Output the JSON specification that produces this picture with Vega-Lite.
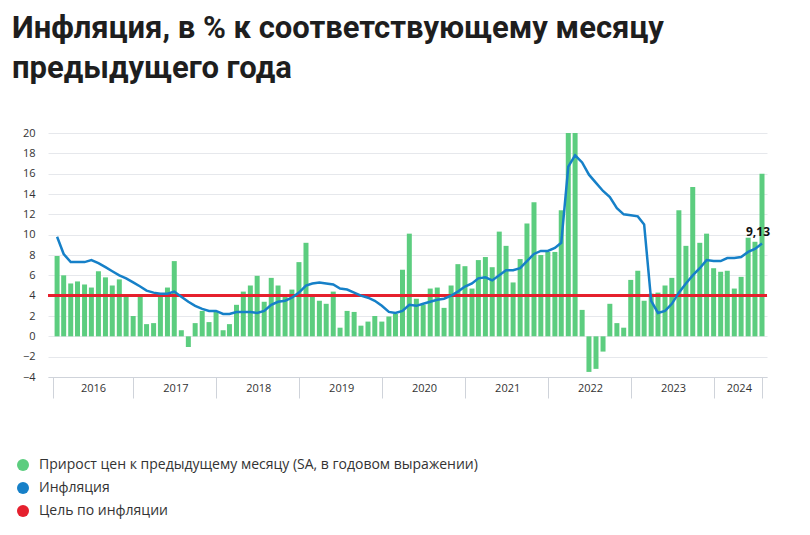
{
  "$schema": "https://vega.github.io/schema/vega-lite/v6.json",
  "width": 719,
  "height": 244,
  "autosize": {"type": "none"},
  "padding": {"left": 48, "top": 133, "right": 43, "bottom": 158},
  "background": "white",
  "title": {
    "text": ["Инфляция, в % к соответствующему месяцу", "предыдущего года"],
    "anchor": "start",
    "frame": "group",
    "dx": -36,
    "offset": 42,
    "fontSize": 31,
    "font": "Roboto",
    "fontWeight": "bold",
    "color": "#1e1e1e",
    "lineHeight": 40
  },
  "config": {
    "view": {"stroke": null},
    "font": "Open Sans",
    "axisY": {"labelOverlap": false, "tickCount": 13}
  },
  "data": {
    "values": [
      {"date": "2016/01/31", "mom": 7.9, "cpi": 9.8},
      {"date": "2016/02/29", "mom": 6.0, "cpi": 8.1},
      {"date": "2016/03/31", "mom": 5.2, "cpi": 7.3},
      {"date": "2016/04/30", "mom": 5.4, "cpi": 7.3},
      {"date": "2016/05/31", "mom": 5.1, "cpi": 7.3},
      {"date": "2016/06/30", "mom": 4.8, "cpi": 7.5},
      {"date": "2016/07/31", "mom": 6.4, "cpi": 7.2},
      {"date": "2016/08/31", "mom": 5.8, "cpi": 6.8},
      {"date": "2016/09/30", "mom": 5.0, "cpi": 6.4},
      {"date": "2016/10/31", "mom": 5.6, "cpi": 6.0},
      {"date": "2016/11/30", "mom": 4.0, "cpi": 5.7},
      {"date": "2016/12/31", "mom": 2.0, "cpi": 5.3},
      {"date": "2017/01/31", "mom": 4.1, "cpi": 4.9},
      {"date": "2017/02/28", "mom": 1.2, "cpi": 4.5},
      {"date": "2017/03/31", "mom": 1.3, "cpi": 4.3},
      {"date": "2017/04/30", "mom": 4.0, "cpi": 4.2},
      {"date": "2017/05/31", "mom": 4.8, "cpi": 4.2},
      {"date": "2017/06/30", "mom": 7.4, "cpi": 4.4},
      {"date": "2017/07/31", "mom": 0.6, "cpi": 3.9},
      {"date": "2017/08/31", "mom": -1.05, "cpi": 3.4},
      {"date": "2017/09/30", "mom": 1.3, "cpi": 3.0},
      {"date": "2017/10/31", "mom": 2.5, "cpi": 2.7},
      {"date": "2017/11/30", "mom": 1.4, "cpi": 2.5},
      {"date": "2017/12/31", "mom": 2.4, "cpi": 2.5},
      {"date": "2018/01/31", "mom": 0.6, "cpi": 2.2},
      {"date": "2018/02/28", "mom": 1.2, "cpi": 2.2},
      {"date": "2018/03/31", "mom": 3.1, "cpi": 2.4},
      {"date": "2018/04/30", "mom": 4.4, "cpi": 2.4},
      {"date": "2018/05/31", "mom": 5.0, "cpi": 2.4},
      {"date": "2018/06/30", "mom": 5.95, "cpi": 2.3},
      {"date": "2018/07/31", "mom": 3.4, "cpi": 2.5},
      {"date": "2018/08/31", "mom": 5.75, "cpi": 3.1},
      {"date": "2018/09/30", "mom": 5.0, "cpi": 3.4},
      {"date": "2018/10/31", "mom": 4.0, "cpi": 3.5},
      {"date": "2018/11/30", "mom": 4.6, "cpi": 3.8},
      {"date": "2018/12/31", "mom": 7.3, "cpi": 4.3},
      {"date": "2019/01/31", "mom": 9.2, "cpi": 5.0},
      {"date": "2019/02/28", "mom": 4.0, "cpi": 5.2},
      {"date": "2019/03/31", "mom": 3.5, "cpi": 5.3},
      {"date": "2019/04/30", "mom": 3.2, "cpi": 5.2},
      {"date": "2019/05/31", "mom": 4.4, "cpi": 5.1},
      {"date": "2019/06/30", "mom": 0.85, "cpi": 4.7},
      {"date": "2019/07/31", "mom": 2.5, "cpi": 4.6},
      {"date": "2019/08/31", "mom": 2.4, "cpi": 4.3},
      {"date": "2019/09/30", "mom": 1.05, "cpi": 4.0},
      {"date": "2019/10/31", "mom": 1.45, "cpi": 3.8},
      {"date": "2019/11/30", "mom": 2.0, "cpi": 3.5},
      {"date": "2019/12/31", "mom": 1.45, "cpi": 3.0},
      {"date": "2020/01/31", "mom": 1.95, "cpi": 2.4},
      {"date": "2020/02/29", "mom": 2.2, "cpi": 2.3},
      {"date": "2020/03/31", "mom": 6.55, "cpi": 2.5},
      {"date": "2020/04/30", "mom": 10.1, "cpi": 3.1},
      {"date": "2020/05/31", "mom": 3.7, "cpi": 3.0},
      {"date": "2020/06/30", "mom": 3.1, "cpi": 3.2},
      {"date": "2020/07/31", "mom": 4.7, "cpi": 3.4},
      {"date": "2020/08/31", "mom": 4.8, "cpi": 3.6},
      {"date": "2020/09/30", "mom": 2.8, "cpi": 3.7},
      {"date": "2020/10/31", "mom": 5.0, "cpi": 4.0},
      {"date": "2020/11/30", "mom": 7.1, "cpi": 4.4},
      {"date": "2020/12/31", "mom": 6.9, "cpi": 4.9},
      {"date": "2021/01/31", "mom": 4.7, "cpi": 5.2},
      {"date": "2021/02/28", "mom": 7.5, "cpi": 5.7},
      {"date": "2021/03/31", "mom": 7.8, "cpi": 5.8},
      {"date": "2021/04/30", "mom": 6.8, "cpi": 5.5},
      {"date": "2021/05/31", "mom": 10.3, "cpi": 6.0},
      {"date": "2021/06/30", "mom": 8.9, "cpi": 6.5},
      {"date": "2021/07/31", "mom": 5.3, "cpi": 6.5},
      {"date": "2021/08/31", "mom": 7.6, "cpi": 6.7},
      {"date": "2021/09/30", "mom": 11.1, "cpi": 7.4},
      {"date": "2021/10/31", "mom": 13.2, "cpi": 8.1},
      {"date": "2021/11/30", "mom": 8.0, "cpi": 8.4},
      {"date": "2021/12/31", "mom": 8.3, "cpi": 8.4},
      {"date": "2022/01/31", "mom": 8.3, "cpi": 8.7},
      {"date": "2022/02/28", "mom": 12.4, "cpi": 9.2},
      {"date": "2022/03/31", "mom": 20, "cpi": 16.7},
      {"date": "2022/04/30", "mom": 20, "cpi": 17.8},
      {"date": "2022/05/31", "mom": 2.6, "cpi": 17.1},
      {"date": "2022/06/30", "mom": -3.5, "cpi": 15.9},
      {"date": "2022/07/31", "mom": -3.2, "cpi": 15.1},
      {"date": "2022/08/31", "mom": -1.5, "cpi": 14.3},
      {"date": "2022/09/30", "mom": 3.2, "cpi": 13.7},
      {"date": "2022/10/31", "mom": 1.3, "cpi": 12.6},
      {"date": "2022/11/30", "mom": 0.85, "cpi": 12.0},
      {"date": "2022/12/31", "mom": 5.55, "cpi": 11.9},
      {"date": "2023/01/31", "mom": 6.45, "cpi": 11.8},
      {"date": "2023/02/28", "mom": 3.5, "cpi": 11.0},
      {"date": "2023/03/31", "mom": 4.2, "cpi": 3.5},
      {"date": "2023/04/30", "mom": 4.3, "cpi": 2.3},
      {"date": "2023/05/31", "mom": 5.0, "cpi": 2.5},
      {"date": "2023/06/30", "mom": 5.75, "cpi": 3.2},
      {"date": "2023/07/31", "mom": 12.4, "cpi": 4.3},
      {"date": "2023/08/31", "mom": 8.9, "cpi": 5.2},
      {"date": "2023/09/30", "mom": 14.7, "cpi": 6.0},
      {"date": "2023/10/31", "mom": 9.2, "cpi": 6.7},
      {"date": "2023/11/30", "mom": 10.1, "cpi": 7.5},
      {"date": "2023/12/31", "mom": 6.7, "cpi": 7.4},
      {"date": "2024/01/31", "mom": 6.35, "cpi": 7.4},
      {"date": "2024/02/29", "mom": 6.45, "cpi": 7.7},
      {"date": "2024/03/31", "mom": 4.7, "cpi": 7.7},
      {"date": "2024/04/30", "mom": 5.85, "cpi": 7.8},
      {"date": "2024/05/31", "mom": 9.7, "cpi": 8.3},
      {"date": "2024/06/30", "mom": 9.3, "cpi": 8.6},
      {"date": "2024/07/31", "mom": 16.0, "cpi": 9.13, "label": "9,13"}
    ]
  },
  "encoding": {
    "x": {
      "field": "date",
      "type": "temporal",
      "title": null,
      "scale": {"domain": [{"year": 2016, "month": 1, "date": 13}, {"year": 2024, "month": 7, "date": 31}]},
      "axis": {
        "values": [
          {"year": 2016, "month": 1, "date": 13},
          {"year": 2017, "month": 1, "date": 1},
          {"year": 2018, "month": 1, "date": 1},
          {"year": 2019, "month": 1, "date": 1},
          {"year": 2020, "month": 1, "date": 1},
          {"year": 2021, "month": 1, "date": 1},
          {"year": 2022, "month": 1, "date": 1},
          {"year": 2023, "month": 1, "date": 1},
          {"year": 2024, "month": 1, "date": 1},
          {"year": 2024, "month": 7, "date": 31}
        ],
        "grid": false,
        "domainColor": "#cfd3da",
        "tickColor": "#cfd3da",
        "tickSize": 21,
        "labelExpr": "month(datum.value) == 6 ? '' : timeFormat(datum.value, '%Y')",
        "labelOffset": {"expr": "year(datum.value) == 2016 ? 40 : (year(datum.value) == 2024 ? 25 : 42)"},
        "labelPadding": -10,
        "labelBaseline": "middle",
        "labelAlign": "center",
        "labelFlush": false,
        "labelOverlap": false,
        "labelBound": false,
        "labelFontSize": 11,
        "labelColor": "#333333"
      }
    }
  },
  "layer": [
    {
      "mark": {"type": "bar", "width": 5},
      "encoding": {
        "y": {
          "field": "mom",
          "type": "quantitative",
          "title": null,
          "scale": {"domain": [-4, 20], "nice": false, "zero": false},
          "axis": {
            "values": [-4, -2, 0, 2, 4, 6, 8, 10, 12, 14, 16, 18, 20],
            "grid": true,
            "gridColor": "#e6e8ec",
            "domain": false,
            "ticks": false,
            "labelOverlap": false,
            "labelPadding": 13,
            "labelFontSize": 11,
            "labelColor": "#333333"
          }
        },
        "color": {
          "datum": "Прирост цен к предыдущему месяцу (SA, в годовом выражении)",
          "scale": {
            "domain": ["Прирост цен к предыдущему месяцу (SA, в годовом выражении)", "Инфляция", "Цель по инфляции"],
            "range": ["#5ccd7f", "#1680c8", "#e5202e"]
          },
          "legend": {
            "orient": "none",
            "legendX": -32,
            "legendY": 325,
            "title": null,
            "direction": "vertical",
            "symbolType": "circle",
            "symbolSize": 144,
            "symbolStrokeWidth": 0,
            "labelFontSize": 14,
            "labelColor": "#333333",
            "labelFont": "Open Sans",
            "labelOffset": 9,
            "rowPadding": 9,
            "padding": 0,
            "labelLimit": 700
          }
        }
      }
    },
    {
      "mark": {"type": "rule", "strokeWidth": 2},
      "encoding": {
        "x": null,
        "y": {"datum": 4, "type": "quantitative", "axis": {"labelOverlap": false}},
        "color": {"datum": "Цель по инфляции", "legend": null}
      }
    },
    {
      "mark": {"type": "line", "strokeWidth": 2.5},
      "encoding": {
        "y": {"field": "cpi", "type": "quantitative", "axis": {"labelOverlap": false}},
        "color": {"datum": "Инфляция", "legend": null}
      }
    },
    {
      "transform": [{"filter": "datum.label"}],
      "mark": {"type": "text", "align": "right", "baseline": "bottom", "dx": 8, "dy": -5, "fontSize": 12, "fontWeight": "bold", "color": "#111111"},
      "encoding": {
        "y": {"field": "cpi", "type": "quantitative", "axis": {"labelOverlap": false}},
        "text": {"field": "label"}
      }
    }
  ]
}
